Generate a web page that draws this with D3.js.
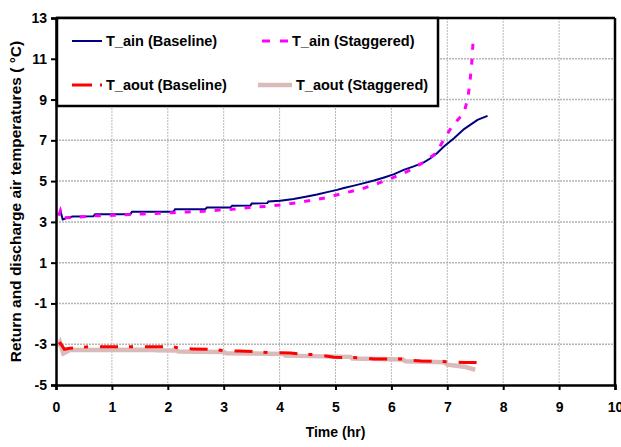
<!DOCTYPE html>
<html><head><meta charset="utf-8">
<script src="https://cdn.jsdelivr.net/npm/d3@7"></script>
<style>
body{margin:0;background:#fff;}
svg text{font-family:"Liberation Sans",Arial,sans-serif;font-weight:bold;}
</style></head>
<body><svg id="c" width="621" height="447"></svg>
<script>
const xTicks = [0,1,2,3,4,5,6,7,8,9,10];
const yTicks = [-5,-3,-1,1,3,5,7,9,11,13];
const seriesNames = ["T_ain (Baseline)","T_ain (Staggered)","T_aout (Baseline)","T_aout (Staggered)"];

const ainBaseT = [0.08,0.12,0.2,0.3,0.67,0.7,1.33,1.36,2.1,2.13,2.67,2.7,3.12,3.15,3.48,3.5,3.78,3.8,4.01,4.25,4.49,4.67,4.85,5.03,5.15,5.33,5.51,5.69,5.87,6.05,6.22,6.40,6.58,6.70,6.82,6.94,7.12,7.30,7.54,7.72];
const ainBaseV = [3.55,3.12,3.2,3.26,3.28,3.37,3.38,3.5,3.5,3.62,3.62,3.7,3.71,3.79,3.8,3.9,3.92,4.0,4.04,4.12,4.24,4.34,4.46,4.57,4.66,4.78,4.9,5.03,5.18,5.34,5.55,5.72,5.92,6.12,6.38,6.7,7.1,7.55,8.0,8.2];

const ainStagT = [0.05,0.08,0.12,0.37,0.64,0.94,1.2,1.56,1.84,2.1,2.37,2.64,2.92,3.2,3.46,3.75,4.03,4.32,4.6,4.86,5.13,5.46,5.73,6.0,6.28,6.55,6.8,6.9,7.08,7.3,7.37,7.41,7.44,7.46];
const ainStagV = [3.3,3.55,3.2,3.23,3.29,3.32,3.34,3.39,3.42,3.45,3.49,3.52,3.58,3.63,3.7,3.76,3.83,3.94,4.07,4.2,4.4,4.61,4.86,5.14,5.47,5.88,6.37,6.86,7.67,8.36,9.1,10.0,10.9,11.8];

const aoutBaseT = [0.05,0.08,0.15,0.25,0.6,1.4,2.1,2.15,2.2,2.45,2.8,3.0,3.27,3.6,3.8,4.2,4.37,4.7,4.97,5.42,5.69,6.2,6.24,6.3,6.52,6.85,7.03,7.3,7.66];
const aoutBaseV = [-3.0,-2.95,-3.25,-3.2,-3.12,-3.12,-3.12,-3.16,-3.22,-3.23,-3.25,-3.32,-3.33,-3.36,-3.41,-3.43,-3.49,-3.52,-3.64,-3.66,-3.72,-3.73,-3.7,-3.78,-3.82,-3.84,-3.86,-3.9,-3.9];

const aoutStagT = [0.03,0.07,0.13,0.25,1.7,1.8,2.15,2.2,3.0,3.05,4.07,4.1,5.27,5.3,6.2,6.25,6.94,7.0,7.3,7.5];
const aoutStagV = [-3.1,-2.9,-3.45,-3.28,-3.27,-3.3,-3.31,-3.36,-3.38,-3.44,-3.48,-3.56,-3.62,-3.7,-3.75,-3.83,-3.88,-4.0,-4.1,-4.25];

const svg = d3.select("#c");
const L=56, R=615, T=18, B=385;
const x = d3.scaleLinear().domain([0,10]).range([L,R]);
const y = d3.scaleLinear().domain([-5,13]).range([B,T]);

// gridlines
const g = svg.append("g");
g.selectAll("line.vg").data(xTicks.filter(d=>d>0&&d<10)).enter().append("line")
 .attr("x1",d=>x(d)).attr("x2",d=>x(d)).attr("y1",T).attr("y2",B)
 .attr("stroke","#b8b8b8").attr("stroke-width",1).attr("stroke-dasharray","2,1");
g.selectAll("line.hg").data(yTicks.filter(d=>d>-5&&d<13)).enter().append("line")
 .attr("x1",L).attr("x2",R).attr("y1",d=>y(d)).attr("y2",d=>y(d))
 .attr("stroke","#b4b4b4").attr("stroke-width",1.5).attr("stroke-dasharray","2,1");

const line = d3.line().x(d=>x(d[0])).y(d=>y(d[1]));
const zip=(a,b)=>a.map((t,i)=>[t,b[i]]);
const styles = [
 {data:zip(aoutStagT,aoutStagV), stroke:"#dbbaba", w:4.5, dash:null},
 {data:zip(aoutBaseT,aoutBaseV), stroke:"#ff0000", w:3, dash:"18,11,4,12"},
 {data:zip(ainBaseT,ainBaseV), stroke:"#000080", w:2, dash:null},
 {data:zip(ainStagT,ainStagV), stroke:"#ff00ff", w:3, dash:"6,9"},
];
styles.forEach(s=>{
 svg.append("path").datum(s.data).attr("d",line).attr("fill","none")
  .attr("stroke",s.stroke).attr("stroke-width",s.w).attr("stroke-dasharray",s.dash);
});

// axes
const ax = svg.append("g").attr("transform",`translate(0,${B})`)
 .call(d3.axisBottom(x).tickValues(xTicks).tickSize(5).tickPadding(12).tickFormat(d3.format("d")));
const ay = svg.append("g").attr("transform",`translate(${L},0)`)
 .call(d3.axisLeft(y).tickValues(yTicks).tickSize(5).tickPadding(4).tickFormat(d3.format("d")));
[ax,ay].forEach(a=>{
 a.select(".domain").attr("stroke","#000").attr("stroke-width",2.5);
 a.selectAll(".tick line").attr("stroke","#000").attr("stroke-width",2);
 a.selectAll("text").attr("fill","#000").attr("font-size",14);
});
ay.selectAll("text").text(d=>d<0?"-"+Math.abs(d):d);
// top & right border
svg.append("line").attr("x1",L).attr("x2",R).attr("y1",T).attr("y2",T).attr("stroke","#000").attr("stroke-width",2.5);
svg.append("line").attr("x1",R).attr("x2",R).attr("y1",T).attr("y2",B).attr("stroke","#000").attr("stroke-width",2.5);

// legend
const lg = svg.append("g");
lg.append("rect").attr("x",57).attr("y",18).attr("width",381).attr("height",88)
 .attr("fill","#fff").attr("stroke","#000").attr("stroke-width",2.5);
const legPos = [[72,41],[262,41],[72,85],[258,85]];
const legStyle = [
 {stroke:"#000080",w:2,dash:null,len:30},
 {stroke:"#ff00ff",w:3,dash:"8,10",len:26},
 {stroke:"#ff0000",w:3,dash:"20,8,3,8",len:30},
 {stroke:"#dbbaba",w:4.5,dash:null,len:34},
];
seriesNames.forEach((n,i)=>{
 const [px,py]=legPos[i], s=legStyle[i];
 lg.append("line").attr("x1",px).attr("x2",px+s.len).attr("y1",py).attr("y2",py)
  .attr("stroke",s.stroke).attr("stroke-width",s.w).attr("stroke-dasharray",s.dash);
 lg.append("text").attr("x",px+s.len+4).attr("y",py+5).attr("font-size",14.5).text(n);
});

// titles
svg.append("text").attr("x",(L+R)/2).attr("y",437).attr("text-anchor","middle").attr("font-size",14).text("Time (hr)");
svg.append("text").attr("transform",`translate(21,${(T+B)/2}) rotate(-90)`).attr("text-anchor","middle")
 .attr("font-size",15.5).text("Return and discharge air temperatures ( °C)");
</script></body></html>
